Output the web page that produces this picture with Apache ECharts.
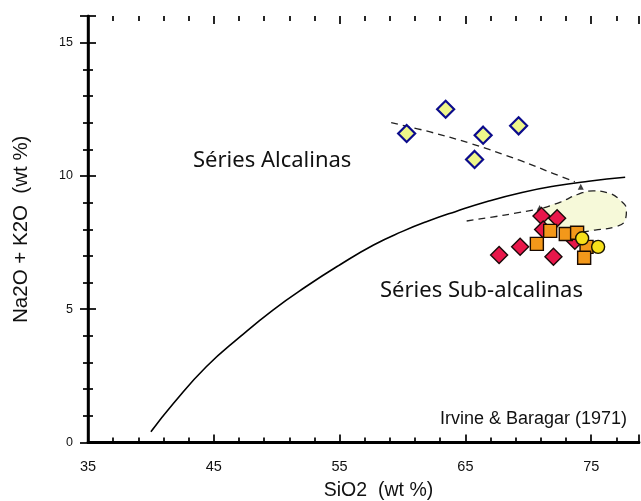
<!DOCTYPE html>
<html><head><meta charset="utf-8">
<script src="https://cdn.jsdelivr.net/npm/echarts@6/dist/echarts.min.js"></script>
<style>html,body{margin:0;padding:0;background:#fff}#c{width:641px;height:501px}</style>
</head><body><div id="c"></div>
<script>
// ---- data ----
const xMajorTicks = [35, 45, 55, 65, 75];
const yMajorTicks = [0, 5, 10, 15];
const xTitle = 'SiO2  (wt %)';
const yTitle = 'Na2O + K2O  (wt %)';

// Irvine & Baragar (1971) alkaline / sub-alkaline boundary
const boundaryCurve = [[40.0,0.4],[41.8,1.47],[44.4,2.84],[47.1,3.97],[49.7,4.97],[52.4,5.87],[55.0,6.66],[57.7,7.41],[60.0,7.92],[62.0,8.3],[64.2,8.66],[66.8,9.05],[69.5,9.38],[72.1,9.62],[74.8,9.80],[77.7,9.95]];
// dashed trends
const upperTrend = [[59.1,12.0],[62.2,11.65],[65.4,11.22],[69.3,10.59],[72.0,10.09],[73.7,9.78]];
const lowerTrend = [[65.1,8.31],[68.1,8.53],[70.8,8.76]];
const fieldOutline = [[71.2,8.8],[72.6,9.03],[74.0,9.32],[75.15,9.44],[76.3,9.37],[77.3,9.09],[77.8,8.72],[77.7,8.34],[76.9,8.09],[75.3,7.97],[74.4,7.9]];
const fieldArea = [[71.0,8.75],[72.6,9.03],[74.0,9.32],[75.15,9.44],[76.3,9.37],[77.3,9.09],[77.8,8.72],[77.7,8.34],[76.9,8.09],[75.3,7.97],[74.4,7.9],[72.8,7.95],[71.6,8.1],[71.0,8.4]];
const arrowHeads = [[74.17,9.59],[70.9,8.8]];

// samples
const yellowDiamonds = [[60.33,11.59],[63.43,12.50],[66.41,11.53],[65.73,10.62],[69.23,11.88]];
const redDiamonds = [[67.68,7.03],[69.35,7.34],[71.05,8.50],[72.29,8.41],[71.18,7.99],[72.0,6.97],[73.70,7.57]];
const orangeSquares = [[71.74,7.94],[70.68,7.45],[72.98,7.82],[73.88,7.87],[74.63,7.34],[74.44,6.93]];
const yellowCircles = [[74.28,7.66],[75.55,7.34]];

const fieldLabels = ['Séries Alcalinas', 'Séries Sub-alcalinas'];
const sourceLabel = 'Irvine & Baragar (1971)';

// ---- chart ----
const X_MIN = 35, X_MAX = 78.8, Y_MIN = 0, Y_MAX = 16;
const AX = '#000';
const tickLine = {color:AX, width:1.7};

// decorative tick axis sharing the x scale (offset so that min is a multiple of the interval)
function decoX(pos) {
  return {type:'value', position:pos, min:0, max:X_MAX-X_MIN, interval:10,
    axisLine:{show:false}, axisLabel:{show:false}, splitLine:{show:false},
    axisTick:{show:true, inside:true, length:8, lineStyle:tickLine},
    minorTick:{show:true, splitNumber:5, length:5, lineStyle:tickLine}};
}

const chart = echarts.init(document.getElementById('c'), null, {renderer:'canvas'});
chart.setOption({
  animation:false,
  backgroundColor:'#fff',
  grid:{left:88, right:2, top:16, bottom:58.5, containLabel:false, outerBoundsMode:'none'},
  xAxis:[
    {type:'value', position:'bottom', min:X_MIN, max:X_MAX, interval:5,
     name:xTitle, nameLocation:'middle', nameGap:38,
     nameTextStyle:{fontFamily:'Liberation Sans', fontSize:19.5, color:'#111', padding:[0,0,0,30]},
     axisLine:{show:true, lineStyle:{color:AX, width:2.8}},
     axisTick:{show:false}, splitLine:{show:false},
     axisLabel:{margin:17, showMaxLabel:false, fontFamily:'Liberation Sans', fontSize:14.5, color:'#111',
       formatter:v => xMajorTicks.indexOf(v) >= 0 ? String(v) : ''}},
    {type:'value', position:'top', min:X_MIN, max:X_MAX, interval:5,
     axisLine:{show:true, lineStyle:{color:AX, width:2.2}},
     axisTick:{show:false}, axisLabel:{show:false}, splitLine:{show:false}},
    decoX('bottom'), decoX('top')
  ],
  yAxis:[
    {type:'value', position:'left', min:Y_MIN, max:Y_MAX, interval:5,
     name:yTitle, nameLocation:'middle', nameGap:56, nameRotate:90,
     nameTextStyle:{fontFamily:'Liberation Sans', fontSize:20.5, color:'#111'},
     axisLine:{show:true, lineStyle:{color:AX, width:2.4}},
     axisTick:{show:true, inside:true, length:8, lineStyle:tickLine},
     minorTick:{show:true, splitNumber:5, length:5, lineStyle:tickLine},
     splitLine:{show:false},
     axisLabel:{margin:15, showMaxLabel:false, fontFamily:'Liberation Sans', fontSize:12.5, color:'#111',
       formatter:v => yMajorTicks.indexOf(v) >= 0 ? String(v) : ''}},
    {type:'value', position:'right', min:Y_MIN, max:Y_MAX, interval:5,
     axisLine:{show:true, lineStyle:{color:AX, width:2.6}},
     axisTick:{show:true, inside:true, length:8, lineStyle:tickLine},
     minorTick:{show:true, splitNumber:5, length:5, lineStyle:tickLine},
     axisLabel:{show:false}, splitLine:{show:false}}
  ],
  graphic:[
    {type:'text', left:193, top:150, z:50, style:{text:fieldLabels[0], font:'22px "Noto Sans"', fill:'#111'}},
    {type:'text', left:380, top:280, z:50, style:{text:fieldLabels[1], font:'22px "Noto Sans"', fill:'#111'}},
    {type:'text', left:440, top:410, z:50, style:{text:sourceLabel, font:'18px "Liberation Sans"', fill:'#111'}}
  ],
  series:[
    {type:'custom', name:'field', xAxisIndex:0, yAxisIndex:0, data:fieldArea, z:1, silent:true,
     renderItem:function(params, api){
       if (params.dataIndex !== 0) return null;
       const pts = fieldArea.map(p => api.coord(p));
       return {type:'polygon', shape:{points:pts, smooth:0.35}, style:{fill:'#f6f9d9', stroke:null}};
     }},
    {type:'line', name:'boundary', data:boundaryCurve, smooth:0.5, symbol:'none', z:2,
     lineStyle:{color:'#000', width:1.6}},
    {type:'line', name:'upperTrend', data:upperTrend, smooth:0.4, symbol:'none', z:2,
     lineStyle:{color:'#222', width:1.3, type:[7,5]}},
    {type:'line', name:'lowerTrend', data:lowerTrend, smooth:0.4, symbol:'none', z:2,
     lineStyle:{color:'#222', width:1.3, type:[7,5]}},
    {type:'line', name:'fieldOutline', data:fieldOutline, smooth:true, symbol:'none', z:2,
     lineStyle:{color:'#222', width:1.3, type:[7,5]}},
    {type:'scatter', name:'arrows', data:arrowHeads, symbol:'triangle', symbolSize:[6,6], z:3,
     itemStyle:{color:'#111'}},
    {type:'scatter', name:'yellowDiamonds', data:yellowDiamonds, symbol:'diamond', symbolSize:[17,17], z:5,
     itemStyle:{color:'#eef68a', borderColor:'#0b0b8c', borderWidth:2.2, opacity:1}},
    {type:'scatter', name:'redDiamonds', data:redDiamonds, symbol:'diamond', symbolSize:[17,17], z:5,
     itemStyle:{color:'#e8174a', borderColor:'#1a0a0a', borderWidth:1.4, opacity:1}},
    {type:'scatter', name:'orangeSquares', data:orangeSquares, symbol:'rect', symbolSize:[13,13], z:6,
     itemStyle:{color:'#f3981a', borderColor:'#1a0a00', borderWidth:1.4, opacity:1}},
    {type:'scatter', name:'yellowCircles', data:yellowCircles, symbol:'circle', symbolSize:13, z:7,
     itemStyle:{color:'#f7e01a', borderColor:'#1a1400', borderWidth:1.4, opacity:1}}
  ]
});
</script></body></html>
